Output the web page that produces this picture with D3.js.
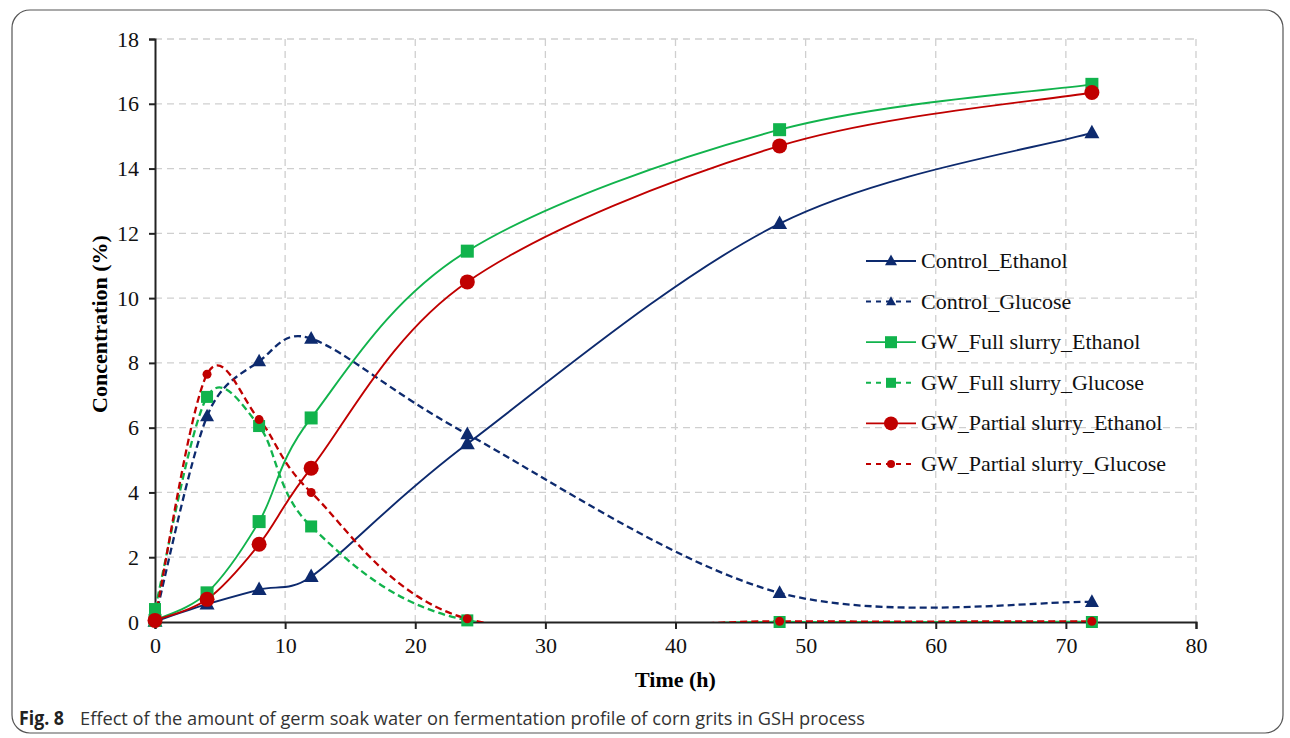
<!DOCTYPE html>
<html>
<head>
<meta charset="utf-8">
<script src="https://cdn.jsdelivr.net/npm/d3@7"></script>
<style>
  body { margin: 0; background: #fff; }
  svg { display: block; }
</style>
</head>
<body>
<div id="chart"></div>
<script>
// sampling times (h)
const hours = [0, 4, 8, 12, 24, 48, 72];

// concentrations (%)
const controlEthanol = [0.02, 0.55, 1.0, 1.4, 5.5, 12.3, 15.1];
const controlGlucose = [0.1, 6.35, 8.05, 8.75, 5.8, 0.9, 0.62];
const fullEthanol = [0.05, 0.9, 3.1, 6.3, 11.45, 15.2, 16.6];
const fullGlucose = [0.4, 6.95, 6.05, 2.95, 0.05, 0.0, 0.0];
const partialEthanol = [0.05, 0.7, 2.4, 4.75, 10.5, 14.7, 16.35];
const partialGlucose = [0.1, 7.65, 6.25, 4.0, 0.1, 0.02, 0.02];

const seriesNames = ["Control_Ethanol", "Control_Glucose", "GW_Full slurry_Ethanol",
  "GW_Full slurry_Glucose", "GW_Partial slurry_Ethanol", "GW_Partial slurry_Glucose"];

const xTicks = [0, 10, 20, 30, 40, 50, 60, 70, 80];
const yTicks = [0, 2, 4, 6, 8, 10, 12, 14, 16, 18];

const navy = "#0d2a6e", green = "#11b34c", red = "#c00000";

// style per series
const series = [
  { name: seriesNames[0], values: controlEthanol, color: navy, dash: null, shape: "tri", size: 15 },
  { name: seriesNames[1], values: controlGlucose, color: navy, dash: "7,4", shape: "tri", size: 14 },
  { name: seriesNames[2], values: fullEthanol, color: green, dash: null, shape: "sq", size: 13 },
  { name: seriesNames[3], values: fullGlucose, color: green, dash: "7,4", shape: "sq", size: 12 },
  { name: seriesNames[4], values: partialEthanol, color: red, dash: null, shape: "circ", size: 7.5 },
  { name: seriesNames[5], values: partialGlucose, color: red, dash: "7,4", shape: "circ", size: 4.5 }
];

const width = 1290, height = 738;
const margin = { left: 155, right: 94, top: 39, bottom: 116 };

const svg = d3.select("#chart").append("svg")
  .attr("width", width)
  .attr("height", height);

// outer frame
svg.append("rect")
  .attr("x", 12).attr("y", 10)
  .attr("width", 1271).attr("height", 723)
  .attr("rx", 18)
  .attr("fill", "none")
  .attr("stroke", "#555")
  .attr("stroke-width", 1.2);

const x = d3.scaleLinear().domain([0, 80]).range([margin.left, width - margin.right]);
const y = d3.scaleLinear().domain([0, 18]).range([height - margin.bottom, margin.top]);

svg.append("clipPath").attr("id", "plotclip")
  .append("rect")
  .attr("x", x(0) - 20).attr("y", y(18))
  .attr("width", x(80) - x(0) + 40).attr("height", y(0) - y(18));

// gridlines
svg.append("g").selectAll("line.vg")
  .data(xTicks.slice(1))
  .enter().append("line")
  .attr("x1", d => x(d)).attr("x2", d => x(d))
  .attr("y1", y(18)).attr("y2", y(0))
  .attr("stroke", "#cfcfcf").attr("stroke-width", 1.3)
  .attr("stroke-dasharray", "7,5");

svg.append("g").selectAll("line.hg")
  .data(yTicks.slice(1))
  .enter().append("line")
  .attr("x1", x(0)).attr("x2", x(80))
  .attr("y1", d => y(d)).attr("y2", d => y(d))
  .attr("stroke", "#cfcfcf").attr("stroke-width", 1.3)
  .attr("stroke-dasharray", "7,5");

// axes
const xAxis = svg.append("g")
  .attr("transform", "translate(0," + y(0) + ")")
  .call(d3.axisBottom(x).tickValues(xTicks).tickSizeOuter(0).tickSize(7).tickPadding(8));
const yAxis = svg.append("g")
  .attr("transform", "translate(" + x(0) + ",0)")
  .call(d3.axisLeft(y).tickValues(yTicks).tickSizeOuter(0).tickSize(6).tickPadding(10));

[xAxis, yAxis].forEach(function (ax) {
  ax.select(".domain").attr("stroke", "#222").attr("stroke-width", 2);
  ax.selectAll(".tick line").attr("stroke", "#222").attr("stroke-width", 2);
  ax.selectAll(".tick text")
    .attr("fill", "#111")
    .style("font-family", "'Liberation Serif', 'Times New Roman', serif")
    .style("font-size", "22px");
});

// axis titles
svg.append("text")
  .attr("x", x(40)).attr("y", 687)
  .attr("text-anchor", "middle")
  .style("font-family", "'Liberation Serif', serif")
  .style("font-weight", "bold")
  .style("font-size", "22px")
  .text("Time (h)");

svg.append("text")
  .attr("transform", "translate(107," + y(9.2) + ") rotate(-90)")
  .attr("text-anchor", "middle")
  .style("font-family", "'Liberation Serif', serif")
  .style("font-weight", "bold")
  .style("font-size", "22px")
  .text("Concentration (%)");

// smoothed line the way the spreadsheet does it:
// bezier handles of 1/6 of the neighbour chord, capped at half the segment
function smoothPath(pts) {
  const p = d3.path();
  const dist = (a, b) => Math.hypot(b[0] - a[0], b[1] - a[1]);
  p.moveTo(pts[0][0], pts[0][1]);
  for (let i = 0; i < pts.length - 1; i++) {
    const p0 = pts[Math.max(i - 1, 0)], p1 = pts[i], p2 = pts[i + 1], p3 = pts[Math.min(i + 2, pts.length - 1)];
    const d02 = dist(p0, p2), d12 = dist(p1, p2), d13 = dist(p1, p3);
    let f0 = 1 / 6, f1 = 1 / 6;
    if (d02 / 6 > d12 / 2) f0 = d12 / 2 / d02;
    if (d13 / 6 > d12 / 2) f1 = d12 / 2 / d13;
    p.bezierCurveTo(
      p1[0] + f0 * (p2[0] - p0[0]), p1[1] + f0 * (p2[1] - p0[1]),
      p2[0] - f1 * (p3[0] - p1[0]), p2[1] - f1 * (p3[1] - p1[1]),
      p2[0], p2[1]);
  }
  return p.toString();
}

function drawMarker(g, shape, cx, cy, s, color) {
  if (shape === "tri") {
    const h = s * 0.9;
    g.append("path")
      .attr("d", "M" + cx + "," + (cy - h * 0.6) + "L" + (cx + s / 2) + "," + (cy + h * 0.4) +
        "L" + (cx - s / 2) + "," + (cy + h * 0.4) + "Z")
      .attr("fill", color);
  } else if (shape === "sq") {
    g.append("rect")
      .attr("x", cx - s / 2).attr("y", cy - s / 2)
      .attr("width", s).attr("height", s)
      .attr("fill", color);
  } else {
    g.append("circle")
      .attr("cx", cx).attr("cy", cy).attr("r", s)
      .attr("fill", color);
  }
}

const lines = svg.append("g").attr("clip-path", "url(#plotclip)");

series.forEach(function (s) {
  const pts = hours.map((h, i) => [x(h), y(s.values[i])]);
  lines.append("path")
    .attr("d", smoothPath(pts))
    .attr("fill", "none")
    .attr("stroke", s.color)
    .attr("stroke-width", s.dash ? 2.3 : 1.9)
    .attr("stroke-dasharray", s.dash);
});

const plot = svg.append("g");
series.forEach(function (s) {
  const g = plot.append("g");
  hours.forEach(function (h, i) {
    drawMarker(g, s.shape, x(h), y(s.values[i]), s.size, s.color);
  });
});

// legend
const legend = svg.append("g").attr("transform", "translate(866,261)");
series.forEach(function (s, i) {
  const row = legend.append("g").attr("transform", "translate(0," + (i * 40.6) + ")");
  row.append("line")
    .attr("x1", 0).attr("x2", 50)
    .attr("y1", 0).attr("y2", 0)
    .attr("stroke", s.color)
    .attr("stroke-width", s.dash ? 2 : 1.8)
    .attr("stroke-dasharray", s.dash ? "5,5" : null);
  const sz = s.shape === "circ" ? (s.dash ? 4 : 7) : (s.dash ? 10 : 12);
  drawMarker(row, s.shape, 25, 0, sz, s.color);
  row.append("text")
    .attr("x", 55).attr("y", 7)
    .style("font-family", "'Liberation Serif', serif")
    .style("font-size", "22px")
    .attr("fill", "#111")
    .text(s.name);
});

// caption
svg.append("text")
  .attr("x", 19).attr("y", 725)
  .style("font-family", "'Open Sans', sans-serif")
  .style("font-size", "19px")
  .style("font-weight", "bold")
  .attr("fill", "#222")
  .attr("textLength", 45)
  .attr("lengthAdjust", "spacingAndGlyphs")
  .text("Fig. 8");
svg.append("text")
  .attr("x", 80).attr("y", 725)
  .style("font-family", "'Open Sans', sans-serif")
  .style("font-size", "18.5px")
  .attr("fill", "#333")
  .attr("textLength", 785)
  .attr("lengthAdjust", "spacingAndGlyphs")
  .text("Effect of the amount of germ soak water on fermentation profile of corn grits in GSH process");
</script>
</body>
</html>
